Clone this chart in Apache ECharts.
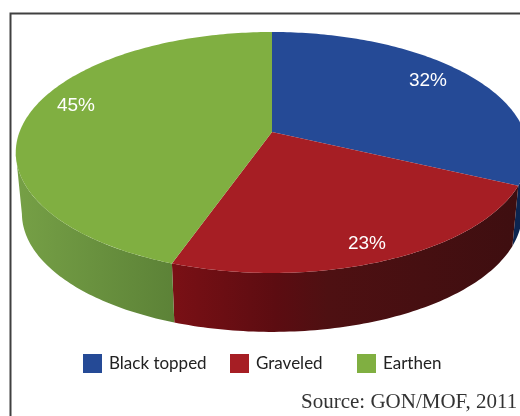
<!DOCTYPE html>
<html><head><meta charset="utf-8">
<style>html,body{margin:0;padding:0;background:#fff}#c{width:520px;height:416px}</style>
<script src="https://cdn.jsdelivr.net/npm/echarts@6/dist/echarts.min.js"></script>
</head><body><div id="c"></div>
<script>
const categories = ['Black topped', 'Graveled', 'Earthen'];
const shares = [32, 23.4, 44.6];
const labels = ['32%', '23%', '45%'];
const topColors = ['#254A96', '#A61E24', '#80AF41'];
const wallStops = [
  [[0, '#0C2550'], [1, '#0C2550']],
  [[0, '#7A1015'], [0.3, '#5C0C11'], [0.45, '#4E1012'], [1, '#3E0E10']],
  [[0, '#76A046'], [1, '#5C8237']]
];
const labelAt = [[428, 81], [367, 244], [76, 106]];

const CX = 272, CY = 132, A = 252.5, B = 117, K = 0.17;
const WALL_DY = 61, WALL_SX = 0.976, WALL_SY = 0.983, ELL_CY = 152;

function rimPoint(deg) {
  const t = deg * Math.PI / 180, s = Math.sin(t), c = Math.cos(t), d = 1 + K * c;
  return [CX + A * s / d, CY - B * c / d];
}
function lowerPoint(p) {
  return [CX + (p[0] - CX) * WALL_SX, ELL_CY + WALL_DY + (p[1] - ELL_CY) * WALL_SY];
}
function arc(a0, a1) {
  const out = [], n = Math.max(2, Math.ceil(Math.abs(a1 - a0)));
  for (let i = 0; i <= n; i++) out.push(rimPoint(a0 + (a1 - a0) * i / n));
  return out;
}
function sliceRange(i) {
  const total = shares.reduce((a, b) => a + b, 0);
  const before = shares.slice(0, i).reduce((a, b) => a + b, 0);
  return [before / total * 360, (before + shares[i]) / total * 360];
}
function renderSlice(i) {
  return function () {
    const [a0, a1] = sliceRange(i);
    const w0 = Math.max(a0, 100), w1 = Math.min(a1, 260);
    const upper = arc(w0, w1);
    const wall = upper.concat(upper.map(lowerPoint).reverse());
    const xs = wall.map(p => p[0]);
    const x0 = Math.min.apply(null, xs), x1 = Math.max.apply(null, xs);
    const stops = wallStops[i].map(s => ({ offset: s[0], color: s[1] }));
    return {
      type: 'group',
      children: [
        { type: 'polygon', shape: { points: wall },
          style: { fill: new echarts.graphic.LinearGradient(x0, 0, x1, 0, stops, true) } },
        { type: 'polygon', shape: { points: [[CX, CY]].concat(arc(a0, a1)) },
          style: { fill: topColors[i] } },
        { type: 'text', x: labelAt[i][0], y: labelAt[i][1],
          style: { text: labels[i], fill: '#fff', align: 'center', verticalAlign: 'middle',
                   font: '19px "Liberation Sans", Arial, sans-serif' } }
      ]
    };
  };
}
const legendLeft = [83, 230, 357];
const chart = echarts.init(document.getElementById('c'), null, { renderer: 'canvas' });
chart.setOption({
  animation: false,
  backgroundColor: '#fff',
  graphic: [{ type: 'rect', z: -1, shape: { x: 10.5, y: 13.5, width: 600, height: 500 },
    style: { fill: '#fff', stroke: '#404040', lineWidth: 2 } }],
  title: { text: 'Source: GON/MOF, 2011', left: 301, top: 392, padding: 0,
    textStyle: { fontFamily: '"Liberation Serif", serif', fontSize: 21, fontWeight: 'normal', color: '#333' } },
  legend: categories.map((name, i) => ({
    data: [{ name, icon: 'rect', itemStyle: { color: topColors[i] } }],
    left: legendLeft[i], top: 354, padding: 0, itemWidth: 19, itemHeight: 19, itemGap: 0,
    selectedMode: false,
    textStyle: { fontFamily: 'Lato, sans-serif', fontSize: 17, color: '#222', padding: [0, 0, 0, 2] }
  })),
  series: categories.map((name, i) => ({
    type: 'custom', name, coordinateSystem: 'none', silent: true,
    itemStyle: { color: topColors[i] },
    renderItem: renderSlice(i),
    data: [shares[i]]
  }))
});
</script></body></html>
